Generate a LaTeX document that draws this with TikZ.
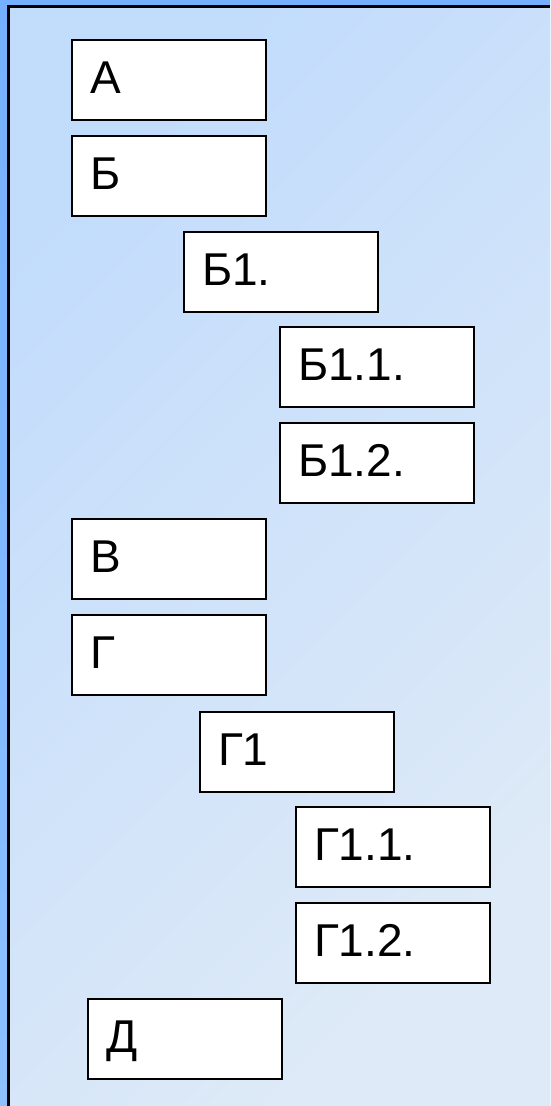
\documentclass[tikz,border=0pt]{standalone}
\usepackage{fontspec}
\setmainfont{Liberation Sans}
\definecolor{frameblue}{HTML}{75B0FF}
\definecolor{frameblue2}{HTML}{8CC0FF}
\definecolor{panelA}{HTML}{C2DCFC}
\definecolor{panelB}{HTML}{DEEAF7}
\tikzset{
	entry/.style={draw,fill=white,line width=2.5pt,rectangle,
		text width=158pt,align=left,inner xsep=18pt,inner ysep=0pt,
		minimum height=80pt,text height=33pt,text depth=6pt,
		font=\fontsize{46}{50}\selectfont}
}
\begin{document}
\begin{tikzpicture}[x=1pt,y=-1pt]
		\useasboundingbox (0,0) rectangle (550,1106);
		\shade[top color=frameblue,bottom color=frameblue2] (0,0) rectangle (550,1106);
		\shade[top color=panelA,bottom color=panelB,shading angle=45] (8.5,6.5) rectangle (550,1106);
		\draw[line width=3pt] (8.5,1106) -- (8.5,6.5) -- (550,6.5);
		\node[entry] (a) at (169,80) {А};
		\node[entry] (b) at (169,176) {Б};
		\node[entry] (b1) at (281,272) {Б1.};
		\node[entry] (b11) at (377,367) {Б1.1.};
		\node[entry] (b12) at (377,463) {Б1.2.};
		\node[entry] (v) at (169,559) {В};
		\node[entry] (g) at (169,655) {Г};
		\node[entry] (g1) at (297,752) {Г1};
		\node[entry] (g11) at (393,847) {Г1.1.};
		\node[entry] (g12) at (393,943) {Г1.2.};
		\node[entry] (d) at (185,1039) {Д};
	\end{tikzpicture}
\end{document}
